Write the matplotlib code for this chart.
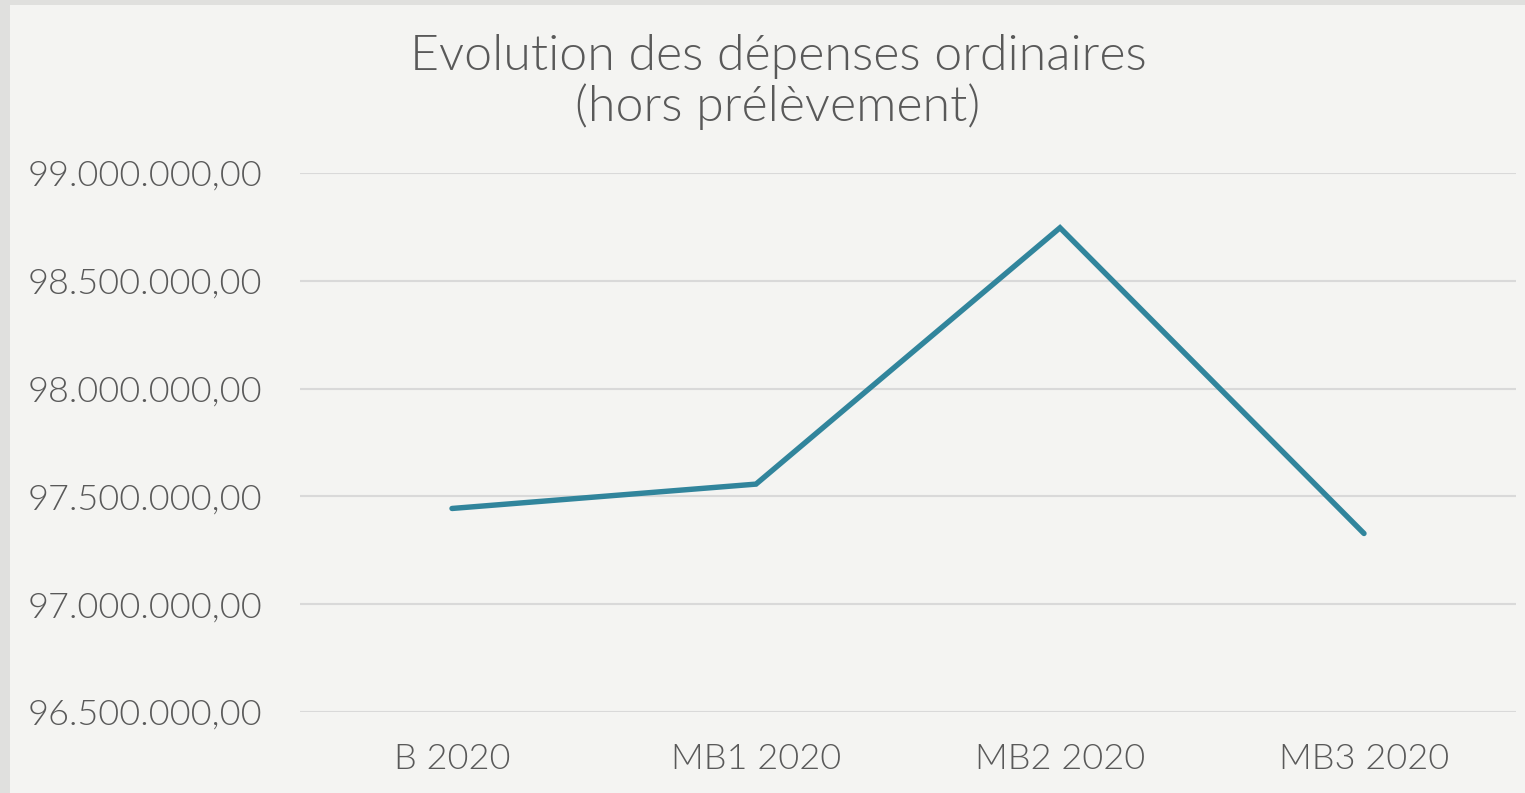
import matplotlib
matplotlib.use('Agg')
import matplotlib.pyplot as plt
from matplotlib.patches import Rectangle
from matplotlib.ticker import FuncFormatter

# Data
categories = ['B 2020', 'MB1 2020', 'MB2 2020', 'MB3 2020']
depenses = [97444000, 97557000, 98746000, 97328000]

text_color = '#595959'
line_color = '#31859C'
plt.rcParams['font.family'] = ['Lato', 'DejaVu Sans']
plt.rcParams['font.weight'] = 300

W, H = 1525, 793
fig = plt.figure(figsize=(W / 100, H / 100), dpi=100, facecolor='#e0e0de')
fig.patches.append(Rectangle((10 / W, 0), 1 - 10 / W, 1 - 5 / H, transform=fig.transFigure,
                             facecolor='#f4f4f2', edgecolor='none', zorder=-10))

ax = fig.add_axes([300 / W, 1 - 712 / H, (1516 - 300) / W, (712 - 173) / H])
ax.set_facecolor('none')

ax.plot(range(len(categories)), depenses, color=line_color, linewidth=3.9,
        solid_capstyle='round', solid_joinstyle='miter', zorder=3)

ax.set_xlim(-0.5, len(categories) - 0.5)
ax.set_ylim(96500000, 99000000)
ax.set_yticks([96500000 + i * 500000 for i in range(6)])
ax.yaxis.set_major_formatter(FuncFormatter(
    lambda v, p: f"{v:,.2f}".replace(',', 'X').replace('.', ',').replace('X', '.')))
ax.set_xticks(range(len(categories)))
ax.set_xticklabels(categories)

ax.grid(axis='y', color='#d9d9d9', linewidth=1.5)
ax.set_axisbelow(True)
for s in ax.spines.values():
    s.set_visible(False)
ax.tick_params(axis='both', length=0, labelsize=26, colors=text_color)
for lbl in ax.get_xticklabels() + ax.get_yticklabels():
    lbl.set_fontweight(300)
ax.tick_params(axis='y', pad=27)
ax.tick_params(axis='x', pad=22)

fig.text(778 / W, 1 - 82 / H, 'Evolution des dépenses ordinaires\n(hors prélèvement)',
         ha='center', va='center', fontsize=36, color=text_color, linespacing=1.12,
         fontweight=300)

plt.savefig('out.png', dpi=100, facecolor=fig.get_facecolor())
plt.close()
